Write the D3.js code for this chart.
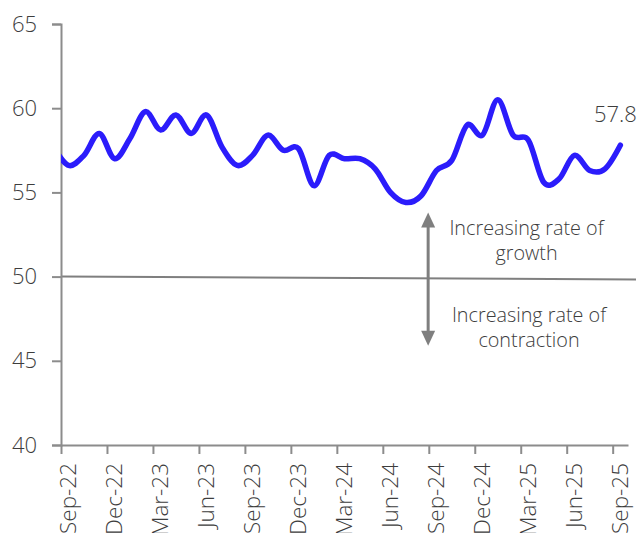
<!DOCTYPE html>
<html>
<head>
<meta charset="utf-8">
<script src="https://cdn.jsdelivr.net/npm/d3@7"></script>
<style>
  html, body { margin: 0; padding: 0; background: #fff; }
  svg { display: block; font-family: "Open Sans", "Segoe UI", sans-serif; font-weight: 300; }
</style>
</head>
<body>
<svg id="chart" width="637" height="533"></svg>
<script>
// Monthly index readings; the August 2022 reading leads the series in from the left edge of the plot.
const months = [
  "Aug-22",
  "Sep-22", "Oct-22", "Nov-22", "Dec-22",
  "Jan-23", "Feb-23", "Mar-23", "Apr-23", "May-23", "Jun-23",
  "Jul-23", "Aug-23", "Sep-23", "Oct-23", "Nov-23", "Dec-23",
  "Jan-24", "Feb-24", "Mar-24", "Apr-24", "May-24", "Jun-24",
  "Jul-24", "Aug-24", "Sep-24", "Oct-24", "Nov-24", "Dec-24",
  "Jan-25", "Feb-25", "Mar-25", "Apr-25", "May-25", "Jun-25",
  "Jul-25", "Aug-25", "Sep-25"
];
const values = [
  57.7,
  56.6, 57.2, 58.5, 57.0,
  58.2, 59.8, 58.7, 59.6, 58.5, 59.6,
  57.7, 56.6, 57.2, 58.4, 57.5, 57.6,
  55.4, 57.2, 57.0, 57.0, 56.4, 55.0,
  54.4, 54.8, 56.3, 56.9, 59.0, 58.4,
  60.5, 58.4, 58.1, 55.6, 55.8, 57.2,
  56.3, 56.4, 57.8
];
// Category labels shown on the x axis (every third month).
const tickLabels = ["Sep-22", "Dec-22", "Mar-23", "Jun-23", "Sep-23", "Dec-23", "Mar-24",
                    "Jun-24", "Sep-24", "Dec-24", "Mar-25", "Jun-25", "Sep-25"];
const yTicks = [40, 45, 50, 55, 60, 65];
const threshold = 50;
const upNote = ["Increasing rate of", "growth"];
const downNote = ["Increasing rate of", "contraction"];

const svg = d3.select("#chart");
const plotLeft = 61, plotRight = 628, plotTop = 24, plotBottom = 445;
const axisColor = "#8c8c8c", textColor = "#3d3d3d";

// x position: month index, Sep-22 = 0; categories sit between tick marks
const idx = m => months.indexOf(m) - 1;
const x = d3.scaleLinear().domain([-0.5, 36.5]).range([plotLeft, plotRight]);
const y = d3.scaleLinear().domain([40, 65]).range([plotBottom, plotTop]);

svg.append("defs").append("clipPath").attr("id", "plot")
  .append("rect").attr("x", plotLeft).attr("y", 0).attr("width", 637 - plotLeft).attr("height", plotBottom);

// 50 threshold line
svg.append("line")
  .attr("x1", plotLeft).attr("y1", y(threshold))
  .attr("x2", 636).attr("y2", y(threshold - 0.17))
  .attr("stroke", "#7f7f7f").attr("stroke-width", 2);

// y axis
const yAxis = svg.append("g").attr("transform", `translate(${plotLeft},0)`)
  .call(d3.axisLeft(y).tickValues(yTicks).tickSize(9).tickPadding(15).tickFormat(d3.format("d")));
yAxis.select(".domain").attr("stroke", axisColor).attr("stroke-width", 2);
yAxis.selectAll(".tick line").attr("stroke", axisColor).attr("stroke-width", 2);
yAxis.selectAll("text").attr("fill", textColor).style("font-size", "22px")
  .style("font-family", "'Open Sans', sans-serif").style("font-weight", 300);

// x axis: tick marks on category boundaries every three months
const bounds = d3.range(0, 13).map(k => -0.5 + 3 * k);
const xAxis = svg.append("g").attr("transform", `translate(0,${plotBottom})`)
  .call(d3.axisBottom(x).tickValues(bounds).tickSize(9).tickSizeOuter(0).tickFormat(""));
xAxis.select(".domain").attr("stroke", axisColor).attr("stroke-width", 2);
xAxis.selectAll(".tick line").attr("stroke", axisColor).attr("stroke-width", 2);

// rotated month labels at category centres
svg.append("g").selectAll("text").data(tickLabels).join("text")
  .attr("transform", d => `translate(${x(idx(d)) + 7.5},${plotBottom + 18}) rotate(-90)`)
  .attr("text-anchor", "end")
  .attr("fill", textColor)
  .style("font-size", "22.5px")
  .text(d => d);

// index line
const line = d3.line()
  .x((d, i) => x(i - 1))
  .y(d => y(d))
  .curve(d3.curveCardinal.tension(0));
svg.append("path")
  .datum(values)
  .attr("clip-path", "url(#plot)")
  .attr("d", line)
  .attr("fill", "none")
  .attr("stroke", "#2b1cfb")
  .attr("stroke-width", 5.5)
  .attr("stroke-linecap", "round")
  .attr("stroke-linejoin", "round");

// latest value label
const last = values[values.length - 1];
svg.append("text")
  .attr("x", x(idx("Sep-25")) - 5)
  .attr("y", y(last) - 23)
  .attr("text-anchor", "middle")
  .attr("fill", textColor)
  .style("font-size", "22px")
  .text(last.toFixed(1));

// double arrow across the threshold
const ax = x(idx("Sep-24")) - 8.3;
const arrowTop = y(53.8), arrowBottom = y(45.9);
svg.append("line")
  .attr("x1", ax).attr("x2", ax)
  .attr("y1", arrowTop + 10).attr("y2", arrowBottom - 10)
  .attr("stroke", "#7f7f7f").attr("stroke-width", 3);
svg.append("path")
  .attr("d", `M${ax},${arrowTop} L${ax + 7},${arrowTop + 15} L${ax - 7},${arrowTop + 15} Z`)
  .attr("fill", "#7f7f7f");
svg.append("path")
  .attr("d", `M${ax},${arrowBottom} L${ax + 7},${arrowBottom - 15} L${ax - 7},${arrowBottom - 15} Z`)
  .attr("fill", "#7f7f7f");

// annotations
function note(lines, cx, baseline) {
  svg.append("g").selectAll("text").data(lines).join("text")
    .attr("x", cx).attr("y", (d, i) => baseline + i * 25)
    .attr("text-anchor", "middle")
    .attr("fill", textColor)
    .style("font-size", "19.8px")
    .text(d => d);
}
note(upNote, 526.5, 235);
note(downNote, 529, 321.5);
</script>
</body>
</html>
